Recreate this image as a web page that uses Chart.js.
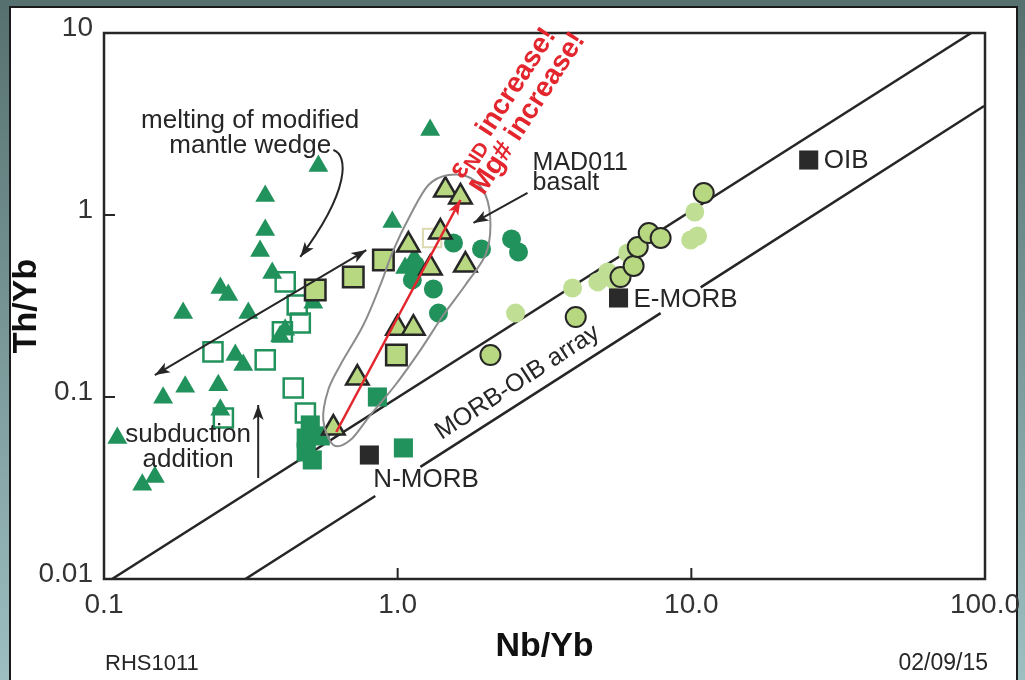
<!DOCTYPE html>
<html>
<head>
<meta charset="utf-8">
<script src="https://cdn.jsdelivr.net/npm/chart.js@4.4.1/dist/chart.umd.min.js"></script>
<style>
  html, body { margin: 0; padding: 0; background: #6f8d90; }
  canvas { display: block; }
</style>
</head>
<body>
<canvas id="c" width="1025" height="680"></canvas>
<script>
// ---- axes ----
const xTicks = [0.1, 1, 10, 100];
const xTickLabels = ['0.1', '1.0', '10.0', '100.0'];
const yTicks = [0.01, 0.1, 1, 10];
const yTickLabels = ['0.01', '0.1', '1', '10'];

// ---- sample groups (Nb/Yb, Th/Yb) ----
const arcTriNb = [1.29, 0.537, 0.354, 0.354, 0.340, 0.374, 0.249, 0.265, 0.186, 0.310, 0.414, 0.398, 0.280, 0.298, 0.189, 0.245, 0.249, 0.159, 0.111, 0.149, 0.135, 0.516, 0.959, 1.06, 1.14];
const arcTriTh = [2.93, 1.86, 1.27, 0.827, 0.634, 0.480, 0.397, 0.363, 0.289, 0.289, 0.234, 0.216, 0.170, 0.150, 0.114, 0.116, 0.085, 0.099, 0.0595, 0.0363, 0.0329, 0.329, 0.915, 0.511, 0.580];

const openSqNb = [0.414, 0.455, 0.466, 0.405, 0.235, 0.354, 0.441, 0.485, 0.255];
const openSqTh = [0.429, 0.320, 0.255, 0.228, 0.177, 0.160, 0.112, 0.0817, 0.0767];

const paleSqNb = [1.31];
const paleSqTh = [0.748];

const darkSqNb = [0.504, 0.488, 0.488, 0.512, 0.545, 0.853, 1.046];
const darkSqTh = [0.0702, 0.0595, 0.0499, 0.0451, 0.0611, 0.100, 0.0525];

const lightSqNb = [0.524, 0.706, 0.894, 0.990];
const lightSqTh = [0.387, 0.456, 0.566, 0.170];

const madTriNb = [1.454, 1.636, 1.398, 1.088, 1.293, 1.701, 0.998, 1.131, 0.729, 0.604];
const madTriTh = [1.372, 1.256, 0.806, 0.684, 0.511, 0.531, 0.239, 0.239, 0.127, 0.0675];

const darkCircNb = [1.549, 1.930, 2.442, 2.579, 1.323, 1.377, 1.149, 1.122];
const darkCircTh = [0.702, 0.650, 0.738, 0.626, 0.392, 0.289, 0.531, 0.440];

const lightCircNb = [2.52, 3.94, 4.80, 5.19, 5.44, 6.07, 9.95, 10.5, 10.27];
const lightCircTh = [0.289, 0.397, 0.429, 0.486, 0.440, 0.618, 0.729, 0.767, 1.039];

const ringCircNb = [2.07, 4.04, 5.74, 6.36, 6.57, 7.16, 7.86, 11.02];
const ringCircTh = [0.170, 0.275, 0.456, 0.525, 0.667, 0.796, 0.748, 1.321];

// reference basalt compositions
const refNames = ['N-MORB', 'E-MORB', 'OIB'];
const refNb = [0.801, 5.65, 25.1];
const refTh = [0.048, 0.350, 2.005];

// MORB-OIB array bounds (null breaks the line)
const upperArrayNb = [0.1065, 89.7];
const upperArrayTh = [0.01, 10];
const lowerArrayNb = [0.303, 0.839, 1.0, 1.195, 7.86, 9.0, 10.76, 99.3];
const lowerArrayTh = [0.01, 0.0286, null, 0.0413, 0.289, null, 0.400, 3.97];

// MAD011 field outline (Nb/Yb, Th/Yb)
const fieldNb = [0.604, 0.558, 0.580, 0.638, 0.764, 0.873, 0.967, 1.105, 1.273, 1.489, 1.770, 1.991, 2.070, 1.991, 1.701, 1.431, 1.195, 0.982, 0.807, 0.690];
const fieldTh = [0.0545, 0.0747, 0.1093, 0.150, 0.2486, 0.4125, 0.642, 1.0, 1.462, 1.659, 1.597, 1.288, 0.881, 0.603, 0.4125, 0.282, 0.181, 0.1164, 0.0796, 0.0580];

const zip = (xs, ys) => xs.map((x, i) => ({ x: x, y: ys[i] }));

const FONT = '"Liberation Sans", Arial, Helvetica, sans-serif';
const INK = '#262626';
const DARK = '#22925d';
const LIGHT = '#b7d781';
const LIGHT_C = '#c0de94';
const RED = '#e3262d';

Chart.defaults.font.family = FONT;
Chart.defaults.color = '#333';

function px(chart, x, y) {
  return [chart.scales.x.getPixelForValue(x), chart.scales.y.getPixelForValue(y)];
}

function head(ctx, x0, y0, x1, y1, len, wid, color) {
  const a = Math.atan2(y1 - y0, x1 - x0);
  ctx.save();
  ctx.translate(x1, y1);
  ctx.rotate(a);
  ctx.fillStyle = color;
  ctx.beginPath();
  ctx.moveTo(0, 0);
  ctx.lineTo(-len, wid / 2);
  ctx.lineTo(-len * 0.75, 0);
  ctx.lineTo(-len, -wid / 2);
  ctx.closePath();
  ctx.fill();
  ctx.restore();
}

function arrow(ctx, a, b, color, width, both) {
  ctx.save();
  ctx.strokeStyle = color;
  ctx.lineWidth = width;
  ctx.beginPath();
  ctx.moveTo(a[0], a[1]);
  ctx.lineTo(b[0], b[1]);
  ctx.stroke();
  head(ctx, a[0], a[1], b[0], b[1], 15, 11, color);
  if (both) head(ctx, b[0], b[1], a[0], a[1], 15, 11, color);
  ctx.restore();
}

function closedSpline(ctx, pts) {
  const n = pts.length;
  ctx.beginPath();
  ctx.moveTo(pts[0][0], pts[0][1]);
  for (let i = 0; i < n; i++) {
    const p0 = pts[(i - 1 + n) % n], p1 = pts[i], p2 = pts[(i + 1) % n], p3 = pts[(i + 2) % n];
    ctx.bezierCurveTo(
      p1[0] + (p2[0] - p0[0]) / 6, p1[1] + (p2[1] - p0[1]) / 6,
      p2[0] - (p3[0] - p1[0]) / 6, p2[1] - (p3[1] - p1[1]) / 6,
      p2[0], p2[1]);
  }
  ctx.closePath();
  ctx.stroke();
}

function text(ctx, str, p, size, opts) {
  opts = opts || {};
  ctx.save();
  ctx.font = (opts.bold ? 'bold ' : '') + size + 'px ' + FONT;
  ctx.fillStyle = opts.color || INK;
  ctx.textAlign = opts.align || 'left';
  ctx.textBaseline = 'alphabetic';
  ctx.translate(p[0], p[1]);
  if (opts.rot) ctx.rotate(opts.rot * Math.PI / 180);
  ctx.fillText(str, 0, 0);
  ctx.restore();
}

// rotated run of text pieces (for the subscripted epsilon label)
function runText(ctx, parts, p, rot, color) {
  ctx.save();
  ctx.translate(p[0], p[1]);
  ctx.rotate(rot * Math.PI / 180);
  ctx.fillStyle = color;
  ctx.textBaseline = 'alphabetic';
  let cx = 0;
  parts.forEach(part => {
    ctx.font = 'bold ' + part.size + 'px ' + FONT;
    ctx.fillText(part.t, cx, part.dy || 0);
    cx += ctx.measureText(part.t).width;
  });
  ctx.restore();
}

const decor = {
  id: 'decor',
  beforeDraw(chart) {
    const ctx = chart.ctx;
    const W = chart.width, H = chart.height;
    ctx.save();
    const g = ctx.createLinearGradient(0, 0, 0, H);
    g.addColorStop(0, '#56706f');
    g.addColorStop(1, '#9dbfc1');
    ctx.fillStyle = g;
    ctx.fillRect(0, 0, W, H);
    ctx.fillStyle = '#ffffff';
    ctx.fillRect(10, 7, 1007, H - 7);
    ctx.strokeStyle = '#1b1b1b';
    ctx.lineWidth = 2;
    ctx.strokeRect(10, 7, 1007, H + 5);
    ctx.restore();
  },
  beforeDatasetsDraw(chart) {
    const ctx = chart.ctx, a = chart.chartArea;
    ctx.save();
    ctx.strokeStyle = INK;
    ctx.lineWidth = 2.5;
    ctx.strokeRect(a.left, a.top, a.right - a.left, a.bottom - a.top);
    ctx.lineWidth = 2;
    yTicks.forEach(v => {
      const y = chart.scales.y.getPixelForValue(v);
      ctx.beginPath(); ctx.moveTo(a.left, y); ctx.lineTo(a.left + 11, y); ctx.stroke();
    });
    xTicks.forEach(v => {
      const x = chart.scales.x.getPixelForValue(v);
      ctx.beginPath(); ctx.moveTo(x, a.bottom); ctx.lineTo(x, a.bottom - 11); ctx.stroke();
    });
    ctx.restore();
  },
  afterDatasetsDraw(chart) {
    const ctx = chart.ctx, a = chart.chartArea;
    const P = (x, y) => px(chart, x, y);

    // MAD011 field
    ctx.save();
    ctx.strokeStyle = '#8c8c8c';
    ctx.lineWidth = 2;
    closedSpline(ctx, fieldNb.map((x, i) => P(x, fieldTh[i])));
    ctx.restore();

    // trend arrows
    arrow(ctx, P(0.618, 0.0642), P(1.636, 1.209), RED, 2.5, false);
    arrow(ctx, P(0.149, 0.132), P(0.782, 0.642), INK, 2, true);
    arrow(ctx, P(0.335, 0.0359), P(0.335, 0.0904), INK, 2, false);
    arrow(ctx, P(2.768, 1.321), P(1.812, 0.904), INK, 2, false);

    // curved arrow from the mantle wedge label
    const c0 = P(0.604, 2.276), c1 = P(0.679, 2.136), c2 = P(0.690, 1.372), c3 = P(0.466, 0.588);
    ctx.save();
    ctx.strokeStyle = INK;
    ctx.lineWidth = 2;
    ctx.beginPath();
    ctx.moveTo(c0[0], c0[1]);
    ctx.bezierCurveTo(c1[0], c1[1], c2[0], c2[1], c3[0], c3[1]);
    ctx.stroke();
    head(ctx, c2[0], c2[1], c3[0], c3[1], 15, 11, INK);
    ctx.restore();

    // labels
    text(ctx, 'melting of modified', P(0.3147, 3.006), 26, { align: 'center' });
    text(ctx, 'mantle wedge', P(0.3147, 2.191), 26, { align: 'center' });
    text(ctx, 'subduction', P(0.1934, 0.0566), 26, { align: 'center' });
    text(ctx, 'addition', P(0.1934, 0.0413), 26, { align: 'center' });
    text(ctx, 'MAD011', P(2.88, 1.768), 25);
    text(ctx, 'basalt', P(2.88, 1.372), 25);
    text(ctx, 'MORB-OIB array', P(1.41, 0.058), 25, { rot: -33 });

    runText(ctx, [
      { t: 'ε', size: 28 },
      { t: 'ND', size: 20, dy: 5 },
      { t: ' increase!', size: 28 }
    ], P(1.662, 1.557), -57, RED);
    runText(ctx, [{ t: 'Mg# increase!', size: 28 }], P(1.965, 1.272), -57, RED);

    // reference composition names
    const off = [[4, 32], [15, 9], [15, 8]];
    refNames.forEach((name, i) => {
      const p = P(refNb[i], refTh[i]);
      text(ctx, name, [p[0] + off[i][0], p[1] + off[i][1]], 26);
    });

    // sample code and date
    text(ctx, 'RHS1011', [a.left + 1, a.bottom + 91], 22);
    text(ctx, '02/09/15', [a.right + 3, a.bottom + 91], 23, { align: 'right' });
  }
};

const chart = new Chart(document.getElementById('c'), {
  type: 'scatter',
  data: {
    datasets: [
      { label: 'MORB-OIB array', data: zip(upperArrayNb, upperArrayTh), showLine: true, borderColor: INK, borderWidth: 2.5, pointRadius: 0, order: 20 },
      { label: 'MORB-OIB array lower', data: zip(lowerArrayNb, lowerArrayTh), showLine: true, spanGaps: false, borderColor: INK, borderWidth: 2.5, pointRadius: 0, order: 20 },
      { label: 'arc triangles', data: zip(arcTriNb, arcTriTh), pointStyle: 'triangle', pointRadius: 11.5, backgroundColor: DARK, borderColor: DARK, borderWidth: 0, order: 7 },
      { label: 'open squares', data: zip(openSqNb, openSqTh), pointStyle: 'rect', pointRadius: 13.5, backgroundColor: 'rgba(0,0,0,0)', borderColor: DARK, borderWidth: 2.5, order: 6 },
      { label: 'pale square', data: zip(paleSqNb, paleSqTh), pointStyle: 'rect', pointRadius: 13, backgroundColor: 'rgba(0,0,0,0)', borderColor: '#dcdab0', borderWidth: 2, order: 6 },
      { label: 'dark squares', data: zip(darkSqNb, darkSqTh), pointStyle: 'rect', pointRadius: 13.5, backgroundColor: DARK, borderColor: DARK, borderWidth: 0, order: 8 },
      { label: 'light circles', data: zip(lightCircNb, lightCircTh), pointStyle: 'circle', pointRadius: 9.5, backgroundColor: LIGHT_C, borderColor: LIGHT_C, borderWidth: 0, order: 5 },
      { label: 'ringed circles', data: zip(ringCircNb, ringCircTh), pointStyle: 'circle', pointRadius: 10, backgroundColor: LIGHT, borderColor: INK, borderWidth: 2, order: 4 },
      { label: 'dark circles', data: zip(darkCircNb, darkCircTh), pointStyle: 'circle', pointRadius: 9.5, backgroundColor: DARK, borderColor: DARK, borderWidth: 0, order: 4 },
      { label: 'light squares', data: zip(lightSqNb, lightSqTh), pointStyle: 'rect', pointRadius: 14.5, backgroundColor: LIGHT, borderColor: INK, borderWidth: 2.5, order: 2 },
      { label: 'MAD011 basalt', data: zip(madTriNb, madTriTh), pointStyle: 'triangle', pointRadius: 13, backgroundColor: LIGHT, borderColor: INK, borderWidth: 2.5, order: 1 },
      { label: 'reference basalts', data: zip(refNb, refTh), pointStyle: 'rect', pointRadius: 13.5, backgroundColor: '#2a2a2a', borderColor: '#2a2a2a', borderWidth: 0, order: 0 }
    ]
  },
  options: {
    responsive: false,
    animation: false,
    events: [],
    layout: { padding: { left: 6, top: 33, right: 40, bottom: 0 } },
    plugins: { legend: { display: false }, tooltip: { enabled: false } },
    scales: {
      x: {
        type: 'logarithmic', min: 0.1, max: 100,
        afterBuildTicks: s => { s.ticks = xTicks.map(v => ({ value: v })); },
        afterFit: s => { s.height = 101; },
        grid: { display: false }, border: { display: false },
        ticks: { callback: (v, i) => xTickLabels[i], font: { size: 28 }, color: '#333', padding: 1, maxRotation: 0, autoSkip: false },
        title: { display: true, text: 'Nb/Yb', font: { size: 34, weight: 'bold' }, color: '#111', padding: { top: 0, bottom: 13 } }
      },
      y: {
        type: 'logarithmic', min: 0.01, max: 10,
        afterBuildTicks: s => { s.ticks = yTicks.map(v => ({ value: v })); },
        afterFit: s => { s.width = 98; },
        grid: { display: false }, border: { display: false },
        ticks: { callback: (v, i) => yTickLabels[i], font: { size: 28 }, color: '#333', padding: 3, labelOffset: -5, autoSkip: false },
        title: { display: true, text: 'Th/Yb', font: { size: 34, weight: 'bold' }, color: '#111', padding: { top: 0, bottom: 0 } }
      }
    }
  },
  plugins: [decor]
});
</script>
</body>
</html>
